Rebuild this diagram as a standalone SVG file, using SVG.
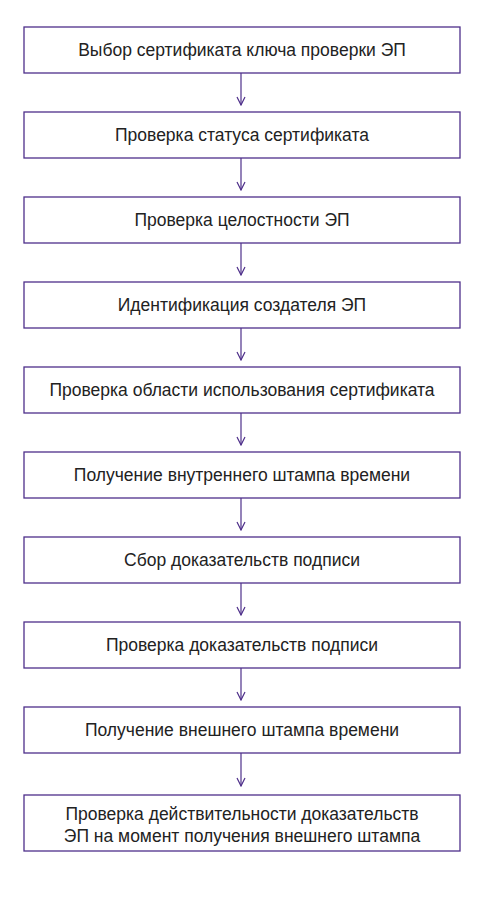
<svg xmlns="http://www.w3.org/2000/svg" width="484" height="900" viewBox="0 0 484 900">
<style>
.box{fill:#fff;stroke:#4e2f8a;stroke-width:1.3}
.t{font-family:"Liberation Sans",Arial,sans-serif;font-size:17.5px;fill:#222;text-anchor:middle}
.c{stroke:#4e2f8a;stroke-width:1.2;fill:none}
</style>
<defs>
<marker id="ah" markerWidth="10" markerHeight="10" refX="9" refY="5" orient="auto" markerUnits="userSpaceOnUse">
<path d="M1,1 L9,5 L1,9" fill="none" stroke="#4e2f8a" stroke-width="1.2"/>
</marker>
</defs>
<rect width="484" height="900" fill="#fff"/>
<g id="connectors">
<line class="c" x1="241" y1="73" x2="241" y2="105" marker-end="url(#ah)"/>
<line class="c" x1="241" y1="158" x2="241" y2="190" marker-end="url(#ah)"/>
<line class="c" x1="241" y1="243" x2="241" y2="275" marker-end="url(#ah)"/>
<line class="c" x1="241" y1="328" x2="241" y2="360" marker-end="url(#ah)"/>
<line class="c" x1="241" y1="413" x2="241" y2="445" marker-end="url(#ah)"/>
<line class="c" x1="241" y1="498" x2="241" y2="530" marker-end="url(#ah)"/>
<line class="c" x1="241" y1="583" x2="241" y2="615" marker-end="url(#ah)"/>
<line class="c" x1="241" y1="668" x2="241" y2="700" marker-end="url(#ah)"/>
<line class="c" x1="241" y1="753" x2="241" y2="786" marker-end="url(#ah)"/>
</g>
<g id="n1"><rect class="box" x="24" y="27" width="436" height="46"/><text class="t" x="242" y="56">Выбор сертификата ключа проверки ЭП</text></g>
<g id="n2"><rect class="box" x="24" y="112" width="436" height="46"/><text class="t" x="242" y="141">Проверка статуса сертификата</text></g>
<g id="n3"><rect class="box" x="24" y="197" width="436" height="46"/><text class="t" x="242" y="226">Проверка целостности ЭП</text></g>
<g id="n4"><rect class="box" x="24" y="282" width="436" height="46"/><text class="t" x="242" y="311">Идентификация создателя ЭП</text></g>
<g id="n5"><rect class="box" x="24" y="367" width="436" height="46"/><text class="t" x="242" y="396">Проверка области использования сертификата</text></g>
<g id="n6"><rect class="box" x="24" y="452" width="436" height="46"/><text class="t" x="242" y="481">Получение внутреннего штампа времени</text></g>
<g id="n7"><rect class="box" x="24" y="537" width="436" height="46"/><text class="t" x="242" y="566">Сбор доказательств подписи</text></g>
<g id="n8"><rect class="box" x="24" y="622" width="436" height="46"/><text class="t" x="242" y="651">Проверка доказательств подписи</text></g>
<g id="n9"><rect class="box" x="24" y="707" width="436" height="46"/><text class="t" x="242" y="736">Получение внешнего штампа времени</text></g>
<g id="n10"><rect class="box" x="24" y="795" width="436" height="56"/><text class="t" x="242" y="820">Проверка действительности доказательств</text><text class="t" x="242" y="842">ЭП на момент получения внешнего штампа</text></g>
</svg>
